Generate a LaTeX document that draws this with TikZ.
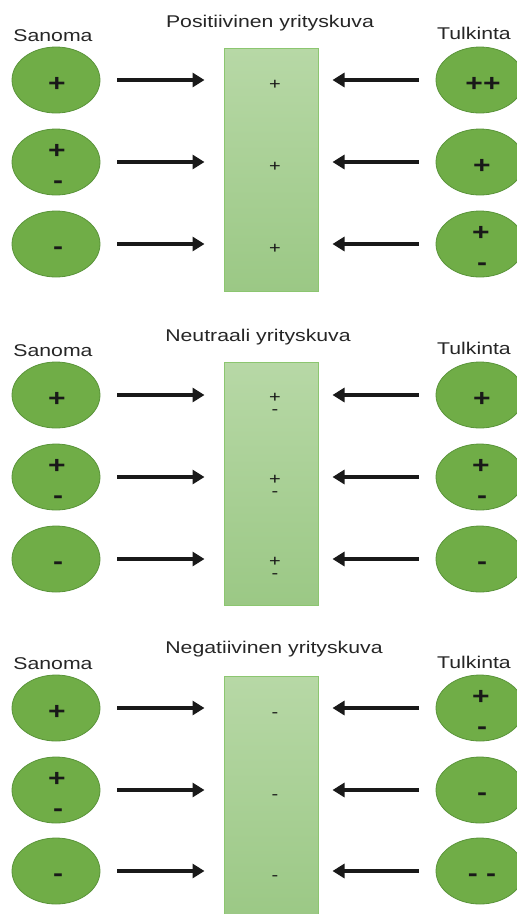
\documentclass[tikz,border=0pt]{standalone}
\usepackage{fontspec}
\setmainfont[FakeStretch=1.25]{Liberation Sans}
\usepackage{tikz}
\usetikzlibrary{shapes.geometric,arrows.meta}
\definecolor{leafgreen}{RGB}{112,173,71}
\definecolor{leafdark}{RGB}{90,148,58}
\definecolor{palegreen}{RGB}{183,216,166}
\definecolor{midgreen}{RGB}{155,200,133}
\definecolor{boxedge}{RGB}{140,198,112}

\begin{document}
\begin{tikzpicture}[x=1pt, y=-1pt,
    oval/.style={ellipse, draw=leafdark, line width=0.8pt, fill=leafgreen,
        minimum width=88pt, minimum height=66pt, inner sep=0pt},
    imgbox/.style={rectangle, draw=boxedge, line width=1pt,
        top color=palegreen, bottom color=midgreen,
        minimum width=94pt, minimum height=243pt, inner sep=0pt},
    head/.style={anchor=base, inner sep=0pt, font=\fontsize{17}{20}\selectfont, text=black!85},
    sign/.style={anchor=base, inner sep=0pt, font=\fontsize{24}{24}\selectfont\bfseries, text=black!90},
    small/.style={anchor=base, inner sep=0pt, align=center, font=\fontsize{16}{12}\selectfont, text=black!90},
    arr/.style={-{Triangle[length=12pt,width=14pt]}, line width=3.6pt, black!90},
    inarr/.style={arr, shorten <=17pt, shorten >=19pt},
    backarr/.style={arr, shorten <=17pt, shorten >=14pt}
]
    \clip (0,0) rectangle (517,914);

    % positive image
    \node[head] (title1) at (270,27) {Positiivinen yrityskuva};
    \node[head] (msg1) at (53,41) {Sanoma};
    \node[head] (read1) at (474,39) {Tulkinta};
    \node[imgbox] (img1) at (271,169.5) {};
    \node[oval] (s1a) at (56,80) {};
    \node[oval] (s1b) at (56,162) {};
    \node[oval] (s1c) at (56,244) {};
    \node[oval] (t1a) at (480,80) {};
    \node[oval] (t1b) at (480,162) {};
    \node[oval] (t1c) at (480,244) {};
    \node[sign] (s1ap) at (57,91) {+};
    \node[sign] (s1bp) at (57,158) {+};
    \node[sign] (s1bm) at (58,188) {-};
    \node[sign] (s1cm) at (58,254) {-};
    \node[sign] (t1ap) at (483,91) {++};
    \node[sign] (t1bp) at (482,173) {+};
    \node[sign] (t1cp) at (481,240) {+};
    \node[sign] (t1cm) at (482,270) {-};
    \node[small] (i1a) at (275,89) {+};
    \node[small] (i1b) at (275,171) {+};
    \node[small] (i1c) at (275,253) {+};
    \draw[inarr] (s1a.east) -- (s1a.east -| img1.west);
    \draw[inarr] (s1b.east) -- (s1b.east -| img1.west);
    \draw[inarr] (s1c.east) -- (s1c.east -| img1.west);
    \draw[backarr] (t1a.west) -- (t1a.west -| img1.east);
    \draw[backarr] (t1b.west) -- (t1b.west -| img1.east);
    \draw[backarr] (t1c.west) -- (t1c.west -| img1.east);

    % neutral image
    \node[head] (title2) at (258,341) {Neutraali yrityskuva};
    \node[head] (msg2) at (53,356) {Sanoma};
    \node[head] (read2) at (474,354) {Tulkinta};
    \node[imgbox] (img2) at (271,483.5) {};
    \node[oval] (s2a) at (56,395) {};
    \node[oval] (s2b) at (56,477) {};
    \node[oval] (s2c) at (56,559) {};
    \node[oval] (t2a) at (480,395) {};
    \node[oval] (t2b) at (480,477) {};
    \node[oval] (t2c) at (480,559) {};
    \node[sign] (s2ap) at (57,406) {+};
    \node[sign] (s2bp) at (57,473) {+};
    \node[sign] (s2bm) at (58,503) {-};
    \node[sign] (s2cm) at (58,569) {-};
    \node[sign] (t2ap) at (482,406) {+};
    \node[sign] (t2bp) at (481,473) {+};
    \node[sign] (t2bm) at (482,503) {-};
    \node[sign] (t2cm) at (482,569) {-};
    \node[small] (i2a) at (275,414) {+\\-};
    \node[small] (i2b) at (275,496) {+\\-};
    \node[small] (i2c) at (275,578) {+\\-};
    \draw[inarr] (s2a.east) -- (s2a.east -| img2.west);
    \draw[inarr] (s2b.east) -- (s2b.east -| img2.west);
    \draw[inarr] (s2c.east) -- (s2c.east -| img2.west);
    \draw[backarr] (t2a.west) -- (t2a.west -| img2.east);
    \draw[backarr] (t2b.west) -- (t2b.west -| img2.east);
    \draw[backarr] (t2c.west) -- (t2c.west -| img2.east);

    % negative image
    \node[head] (title3) at (274,653) {Negatiivinen yrityskuva};
    \node[head] (msg3) at (53,669) {Sanoma};
    \node[head] (read3) at (474,668) {Tulkinta};
    \node[imgbox] (img3) at (271,797.5) {};
    \node[oval] (s3a) at (56,708) {};
    \node[oval] (s3b) at (56,790) {};
    \node[oval] (s3c) at (56,871) {};
    \node[oval] (t3a) at (480,708) {};
    \node[oval] (t3b) at (480,790) {};
    \node[oval] (t3c) at (480,871) {};
    \node[sign] (s3ap) at (57,719) {+};
    \node[sign] (s3bp) at (57,786) {+};
    \node[sign] (s3bm) at (58,816) {-};
    \node[sign] (s3cm) at (58,881) {-};
    \node[sign] (t3ap) at (481,704) {+};
    \node[sign] (t3am) at (482,734) {-};
    \node[sign] (t3bm) at (482,800) {-};
    \node[sign] (t3cm) at (482,881) {- -};
    \node[small] (i3a) at (275,717) {-};
    \node[small] (i3b) at (275,799) {-};
    \node[small] (i3c) at (275,880) {-};
    \draw[inarr] (s3a.east) -- (s3a.east -| img3.west);
    \draw[inarr] (s3b.east) -- (s3b.east -| img3.west);
    \draw[inarr] (s3c.east) -- (s3c.east -| img3.west);
    \draw[backarr] (t3a.west) -- (t3a.west -| img3.east);
    \draw[backarr] (t3b.west) -- (t3b.west -| img3.east);
    \draw[backarr] (t3c.west) -- (t3c.west -| img3.east);
\end{tikzpicture}
\end{document}
